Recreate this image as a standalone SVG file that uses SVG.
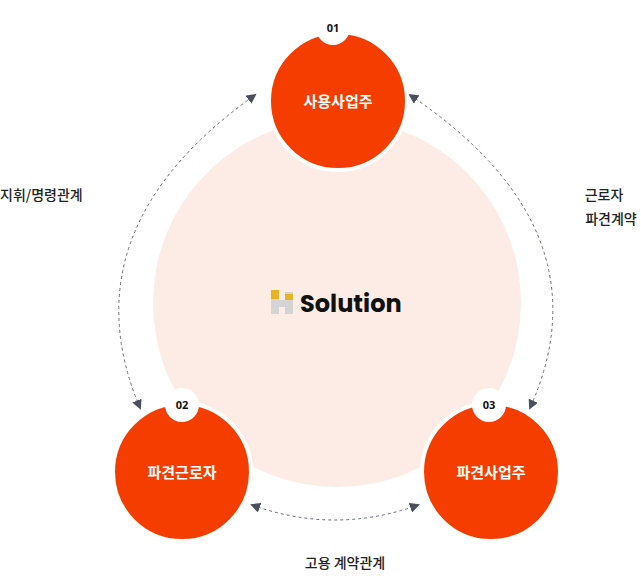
<svg xmlns="http://www.w3.org/2000/svg" width="641" height="576" viewBox="0 0 641 576">
<style>
.node{fill:#f53d00;stroke:#fff;stroke-width:4}
.lbl{font-family:"Noto Sans CJK KR","Noto Sans",sans-serif;font-size:15px;font-weight:700;fill:#fff;text-anchor:middle}
.badge{fill:#fff}
.num{font-family:"Open Sans","Noto Sans",sans-serif;font-size:11px;font-weight:700;fill:#111;text-anchor:middle}
.cap{font-family:"Noto Sans CJK KR","Noto Sans",sans-serif;font-size:14px;font-weight:500;fill:#222}
.arc{fill:none;stroke:#666b78;stroke-width:1;stroke-dasharray:3 3}
</style>
<defs>
<marker id="ah" viewBox="0 0 10 10" refX="8" refY="5" markerWidth="10" markerHeight="10" orient="auto-start-reverse" markerUnits="userSpaceOnUse">
<path d="M0,0 L10,5 L0,10 z" fill="#4a4f60"/>
</marker>
</defs>
<g id="center">
<circle cx="337" cy="303" r="184" fill="#fdece5"/>
<path d="M271,292 h8 v8 h6 v-8 h8 v22 h-8 v-7 h-6 v7 h-8 z" fill="#d4d4d4"/>
<rect x="271" y="290" width="8" height="9" fill="#e6b422"/>
<rect x="285" y="294" width="8" height="6" fill="#e6b422"/>
<text x="300" y="312" font-family="Poppins,Inter,'Noto Sans',sans-serif" font-size="24" font-weight="700" fill="#111">Solution</text>
</g>
<g id="connectors">
<path class="arc" d="M140,408 Q65,230 255,95" marker-start="url(#ah)" marker-end="url(#ah)"/>
<path class="arc" d="M410,95 Q610,230 530,408" marker-start="url(#ah)" marker-end="url(#ah)"/>
<path class="arc" d="M252,505 Q335,535 418,505" marker-start="url(#ah)" marker-end="url(#ah)"/>
</g>
<g id="n1"><circle class="node" cx="338" cy="101" r="69"/><circle class="badge" cx="333" cy="28" r="17"/><text class="num" x="333" y="32">01</text><text class="lbl" x="338" y="107">사용사업주</text></g>
<g id="n2"><circle class="node" cx="182" cy="472" r="69"/><circle class="badge" cx="182" cy="405" r="17"/><text class="num" x="182" y="409">02</text><text class="lbl" x="182" y="478">파견근로자</text></g>
<g id="n3"><circle class="node" cx="491" cy="472" r="69"/><circle class="badge" cx="489" cy="405" r="17"/><text class="num" x="489" y="409">03</text><text class="lbl" x="491" y="478">파견사업주</text></g>
<text class="cap" x="0" y="200">지휘/명령관계</text>
<text class="cap" x="604" y="200" text-anchor="middle">근로자</text>
<text class="cap" x="611" y="224" text-anchor="middle">파견계약</text>
<text class="cap" x="345" y="568" text-anchor="middle">고용 계약관계</text>
</svg>
